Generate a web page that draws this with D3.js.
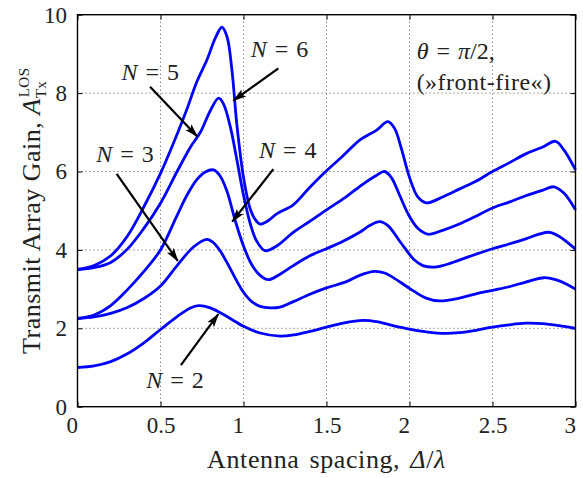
<!DOCTYPE html>
<html>
<head>
<meta charset="utf-8">
<script src="https://cdn.jsdelivr.net/npm/d3@7"></script>
<style>
  body { margin: 0; background: #fff; }
  svg text { font-family: "Liberation Serif", "Times New Roman", serif; fill: #222; }
</style>
</head>
<body>
<div id="chart"></div>
<script>
// transmit array gain vs antenna spacing (Delta/lambda)
const gainN2 = [[0,1.0],[0.1,1.04],[0.2,1.15],[0.3,1.35],[0.4,1.63],[0.5,1.97],[0.6,2.3],[0.68,2.52],[0.73,2.58],[0.8,2.52],[0.9,2.3],[1.0,2.05],[1.1,1.88],[1.22,1.8],[1.3,1.83],[1.4,1.92],[1.5,2.03],[1.6,2.13],[1.72,2.2],[1.8,2.17],[1.9,2.07],[2.0,1.98],[2.1,1.91],[2.22,1.87],[2.3,1.89],[2.4,1.95],[2.5,2.03],[2.6,2.09],[2.7,2.13],[2.8,2.12],[2.9,2.07],[3.0,2.0]];
const gainN3 = [[0,2.25],[0.1,2.29],[0.2,2.38],[0.3,2.53],[0.4,2.76],[0.5,3.08],[0.6,3.6],[0.7,4.08],[0.78,4.27],[0.82,4.18],[0.86,3.97],[0.9,3.68],[0.95,3.28],[1.0,2.92],[1.05,2.68],[1.1,2.56],[1.16,2.52],[1.22,2.54],[1.3,2.68],[1.4,2.87],[1.5,3.03],[1.62,3.19],[1.7,3.35],[1.79,3.45],[1.85,3.41],[1.9,3.3],[2.0,3.02],[2.1,2.77],[2.18,2.7],[2.3,2.77],[2.4,2.88],[2.5,2.97],[2.6,3.06],[2.7,3.18],[2.81,3.29],[2.88,3.24],[2.95,3.12],[3.0,3.0]];
const gainN4 = [[0,2.25],[0.1,2.34],[0.2,2.58],[0.3,2.98],[0.4,3.45],[0.5,4.0],[0.6,4.88],[0.66,5.4],[0.72,5.8],[0.77,5.99],[0.82,6.04],[0.86,5.88],[0.9,5.5],[0.95,4.75],[1.0,4.1],[1.05,3.62],[1.1,3.35],[1.15,3.24],[1.22,3.38],[1.3,3.6],[1.4,3.85],[1.5,4.03],[1.6,4.22],[1.7,4.45],[1.76,4.62],[1.82,4.72],[1.87,4.62],[1.95,4.17],[2.03,3.74],[2.08,3.6],[2.14,3.56],[2.2,3.6],[2.3,3.74],[2.4,3.89],[2.5,4.03],[2.6,4.15],[2.7,4.28],[2.78,4.4],[2.84,4.45],[2.9,4.35],[3.0,4.02]];
const gainN5 = [[0,3.5],[0.1,3.55],[0.2,3.68],[0.3,4.02],[0.4,4.55],[0.5,5.19],[0.6,6.0],[0.68,6.62],[0.74,7.0],[0.8,7.55],[0.85,7.87],[0.88,7.72],[0.92,7.15],[0.96,6.3],[1.0,5.4],[1.04,4.68],[1.08,4.22],[1.13,3.98],[1.2,4.1],[1.3,4.45],[1.4,4.73],[1.5,5.02],[1.62,5.36],[1.72,5.68],[1.8,5.9],[1.85,6.0],[1.89,5.85],[1.94,5.4],[1.99,4.93],[2.05,4.55],[2.11,4.4],[2.2,4.5],[2.3,4.66],[2.4,4.86],[2.5,5.07],[2.6,5.22],[2.7,5.38],[2.8,5.52],[2.87,5.61],[2.93,5.45],[3.0,5.02]];
const gainN6 = [[0,3.5],[0.1,3.6],[0.2,3.85],[0.3,4.35],[0.4,5.1],[0.5,5.95],[0.6,6.95],[0.66,7.6],[0.72,8.3],[0.78,8.85],[0.83,9.4],[0.87,9.68],[0.9,9.45],[0.93,8.6],[0.96,7.2],[1.0,5.85],[1.04,5.05],[1.07,4.78],[1.1,4.66],[1.15,4.75],[1.2,4.92],[1.3,5.15],[1.4,5.6],[1.5,6.02],[1.6,6.4],[1.7,6.8],[1.8,7.05],[1.87,7.27],[1.91,7.1],[1.95,6.6],[2.0,5.85],[2.05,5.35],[2.1,5.2],[2.2,5.35],[2.3,5.55],[2.4,5.75],[2.5,6.0],[2.6,6.22],[2.7,6.45],[2.8,6.62],[2.88,6.77],[2.93,6.55],[3.0,6.04]];

const xTicks = [0, 0.5, 1, 1.5, 2, 2.5, 3];
const yTicks = [0, 2, 4, 6, 8, 10];

// arrow annotations (data units): N, label position, arrow tail, arrow tip
const labelN    = [2, 3, 4, 5, 6];
const labelAt   = [[0.587,0.48],[0.286,6.24],[1.267,6.34],[0.438,8.33],[1.217,8.92]];
const arrowFrom = [[0.623,1.06],[0.236,5.94],[1.18,6.06],[0.437,8.16],[1.21,8.63]];
const arrowTo   = [[0.848,2.36],[0.604,3.72],[0.932,4.72],[0.722,6.89],[0.939,7.81]];

const width = 583;
const height = 478;
const margin = {top: 14.7, right: 7.5, bottom: 71.3, left: 77.5};

const svg = d3.select("#chart")
  .append("svg")
  .attr("width", width)
  .attr("height", height)
  .attr("font-family", "Liberation Serif");

const x = d3.scaleLinear().domain([0, 3]).range([margin.left, width - margin.right]);
const y = d3.scaleLinear().domain([0, 10]).range([height - margin.bottom, margin.top]);

// dotted grid
const grid = svg.append("g")
  .attr("stroke", "#555")
  .attr("stroke-width", 1)
  .attr("stroke-dasharray", "1,3");
grid.selectAll(".gx")
  .data(xTicks.slice(1, -1))
  .join("line")
    .attr("x1", d => x(d)).attr("x2", d => x(d))
    .attr("y1", y(0)).attr("y2", y(10));
grid.selectAll(".gy")
  .data(yTicks.slice(1, -1))
  .join("line")
    .attr("class", "gy")
    .attr("x1", x(0)).attr("x2", x(3))
    .attr("y1", d => y(d)).attr("y2", d => y(d));

// axes, ticks pointing inwards
const fontSize = 23;
const xAxis = svg.append("g")
  .attr("transform", `translate(0,${y(0)})`)
  .call(d3.axisBottom(x).tickValues(xTicks).tickSize(-5).tickPadding(10).tickFormat(d3.format("")));
const yAxis = svg.append("g")
  .attr("transform", `translate(${x(0)},0)`)
  .call(d3.axisLeft(y).tickValues(yTicks).tickSize(-5).tickPadding(10.5));
svg.append("g")
  .attr("transform", `translate(0,${y(10)})`)
  .call(d3.axisTop(x).tickValues(xTicks).tickSize(-5).tickFormat(""));
svg.append("g")
  .attr("transform", `translate(${x(3)},0)`)
  .call(d3.axisRight(y).tickValues(yTicks).tickSize(-5).tickFormat(""));

svg.selectAll(".domain").remove();
svg.selectAll("g").attr("font-family", null).attr("font-size", null);
svg.selectAll(".tick line").attr("stroke", "#000").attr("stroke-width", 1);
svg.selectAll(".tick text")
  .attr("font-size", fontSize)
  .attr("fill", "#222");
// integer labels line up on their (hidden) decimal point
xAxis.selectAll(".tick text")
  .attr("text-anchor", d => Number.isInteger(d) ? "end" : "middle");

// curves
const line = d3.line()
  .x(d => x(d[0]))
  .y(d => y(d[1]))
  .curve(d3.curveCatmullRom.alpha(0.5));

svg.append("g")
  .attr("fill", "none")
  .attr("stroke", "#0000ff")
  .attr("stroke-width", 2.8)
  .attr("stroke-linejoin", "round")
  .selectAll("path")
  .data([gainN2, gainN3, gainN4, gainN5, gainN6])
  .join("path")
    .attr("d", line);

// plot box
svg.append("rect")
  .attr("x", x(0))
  .attr("y", y(10))
  .attr("width", x(3) - x(0))
  .attr("height", y(0) - y(10))
  .attr("fill", "none")
  .attr("stroke", "#000")
  .attr("stroke-width", 1.4);

// arrows
svg.append("defs").append("marker")
  .attr("id", "head")
  .attr("markerUnits", "userSpaceOnUse")
  .attr("viewBox", "0 0 14 10")
  .attr("refX", 13)
  .attr("refY", 5)
  .attr("markerWidth", 14)
  .attr("markerHeight", 10)
  .attr("orient", "auto")
  .append("path")
    .attr("d", "M0,0.8 L14,5 L0,9.2 L3,5 Z")
    .attr("fill", "#000");

svg.append("g")
  .selectAll("line")
  .data(labelN)
  .join("line")
    .attr("x1", (d, i) => x(arrowFrom[i][0]))
    .attr("y1", (d, i) => y(arrowFrom[i][1]))
    .attr("x2", (d, i) => x(arrowTo[i][0]))
    .attr("y2", (d, i) => y(arrowTo[i][1]))
    .attr("stroke", "#000")
    .attr("stroke-width", 2.2)
    .attr("marker-end", "url(#head)");

const labels = svg.append("g")
  .attr("font-size", 24)
  .selectAll("text")
  .data(labelN)
  .join("text")
    .attr("x", (d, i) => x(labelAt[i][0]))
    .attr("y", (d, i) => y(labelAt[i][1]))
    .attr("text-anchor", "middle");
labels.append("tspan").attr("font-style", "italic").text("N");
labels.append("tspan").attr("dx", 8).text("=");
labels.append("tspan").attr("dx", 8).text(d => d);

// angle note
const note = svg.append("g").attr("font-size", 24);
const l1 = note.append("text").attr("x", x(2.043)).attr("y", y(8.87));
l1.append("tspan").attr("font-style", "italic").text("θ");
l1.append("tspan").attr("dx", 8).text("=");
l1.append("tspan").attr("dx", 8).attr("font-style", "italic").text("π");
l1.append("tspan").text("/2,");
note.append("text").attr("x", x(2.043)).attr("y", y(8.08)).attr("letter-spacing", 0.5).text("(»front-fire«)");

// axis labels
const xl = svg.append("text")
  .attr("x", (x(0) + x(3)) / 2)
  .attr("y", 468)
  .attr("text-anchor", "middle")
  .attr("font-size", 26)
  .attr("letter-spacing", 0.6)
  .attr("word-spacing", 3);
xl.append("tspan").text("Antenna spacing, ");
xl.append("tspan").attr("font-style", "italic").text("Δ");
xl.append("tspan").text("/");
xl.append("tspan").attr("font-style", "italic").text("λ");

const yl = svg.append("text")
  .attr("transform", `translate(40,${(y(0) + y(10)) / 2}) rotate(-90)`)
  .attr("text-anchor", "middle")
  .attr("font-size", 26)
  .attr("letter-spacing", 0.5);
yl.append("tspan").text("Transmit Array Gain, ");
yl.append("tspan").attr("font-style", "italic").text("A");
const sup = yl.append("tspan").attr("font-size", 15).attr("dx", 1).attr("dy", -11).text("LOS");
const supW = sup.node().getComputedTextLength();
yl.append("tspan").attr("font-size", 15).attr("dx", -supW - 1).attr("dy", 17).text("Tx");
</script>
</body>
</html>
